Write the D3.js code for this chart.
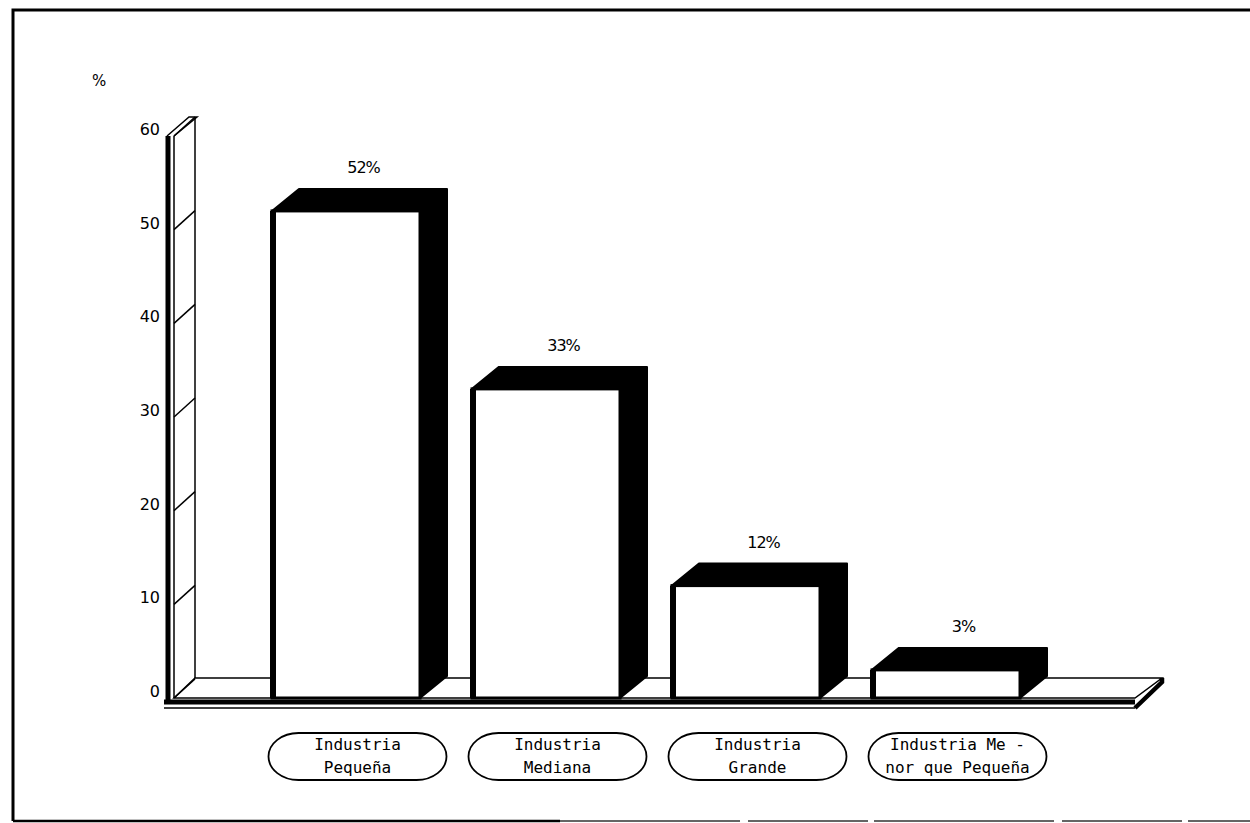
<!DOCTYPE html>
<html>
<head>
<meta charset="utf-8">
<script src="https://cdn.jsdelivr.net/npm/d3@7"></script>
<style>
  body { margin: 0; background: #fff; }
  svg { display: block; }
</style>
</head>
<body>
<div id="chart"></div>
<script>
// données du graphique
const categories = ["Industria Pequeña", "Industria Mediana", "Industria Grande", "Industria Menor que Pequeña"];
const labelLines = [["Industria", "Pequeña"], ["Industria", "Mediana"], ["Industria", "Grande"], ["Industria Me -", "nor que Pequeña"]];
const values = [52, 33, 12, 3];
const valueLabels = ["52%", "33%", "12%", "3%"];
const ticks = [0, 10, 20, 30, 40, 50, 60];

const width = 1250, height = 823;
const dx = 27, dy = -22;   // profondeur 3D

const svg = d3.select("#chart").append("svg")
  .attr("width", width)
  .attr("height", height);

const x = d3.scaleBand()
  .domain(categories)
  .range([246, 1046])
  .paddingInner(0.26)
  .paddingOuter(0.13);

const y = d3.scaleLinear()
  .domain([0, 60])
  .range([698, 136]);

const y0 = y(0);
const line = d3.line();

// cadre
svg.append("path").attr("d", line([[13, 821], [13, 10], [1250, 10]]))
  .attr("fill", "none").attr("stroke", "#000").attr("stroke-width", 3);
svg.append("line").attr("x1", 13).attr("x2", 560).attr("y1", 821).attr("y2", 821)
  .attr("stroke", "#000").attr("stroke-width", 2.5);
svg.append("line").attr("x1", 560).attr("x2", 1250).attr("y1", 821).attr("y2", 821)
  .attr("stroke", "#333").attr("stroke-width", 1.5).attr("stroke-dasharray", "180,8,120,6");

// sol
const wallX = 168, floorRight = 1135;
svg.append("path")
  .attr("d", line([[wallX + 6, y0], [floorRight, y0], [floorRight + dx, y0 + dy + 2], [wallX + dx, y0 + dy + 2]]) + "Z")
  .attr("fill", "#fff").attr("stroke", "#000").attr("stroke-width", 1.5);
svg.append("line").attr("x1", wallX - 4).attr("x2", floorRight).attr("y1", y0 + 4).attr("y2", y0 + 4)
  .attr("stroke", "#000").attr("stroke-width", 5);
svg.append("line").attr("x1", wallX - 4).attr("x2", floorRight).attr("y1", y0 + 10).attr("y2", y0 + 10)
  .attr("stroke", "#000").attr("stroke-width", 1.5);
svg.append("path")
  .attr("d", line([[floorRight, y0 + 10], [floorRight + dx, y0 + dy + 6], [floorRight + dx, y0 + dy + 2]]))
  .attr("fill", "none").attr("stroke", "#000").attr("stroke-width", 4.5);

// mur de l'axe
svg.append("line").attr("x1", wallX).attr("x2", wallX).attr("y1", y(60)).attr("y2", y0 + 6)
  .attr("stroke", "#000").attr("stroke-width", 5);
svg.append("line").attr("x1", wallX + 6).attr("x2", wallX + 6).attr("y1", y(60)).attr("y2", y0)
  .attr("stroke", "#000").attr("stroke-width", 1.5);
svg.append("line").attr("x1", wallX + dx).attr("x2", wallX + dx).attr("y1", y(60) + dy + 3).attr("y2", y0 + dy + 2)
  .attr("stroke", "#000").attr("stroke-width", 1.5);
svg.append("path")
  .attr("d", line([[wallX - 1, y(60)], [wallX + dx - 6, y(60) + dy + 3], [wallX + dx + 2, y(60) + dy + 3], [wallX + 6, y(60)]]))
  .attr("fill", "none").attr("stroke", "#000").attr("stroke-width", 1.5);

svg.selectAll(".tickline")
  .data(ticks)
  .join("line")
  .attr("class", "tickline")
  .attr("x1", wallX + 6).attr("x2", wallX + dx)
  .attr("y1", d => y(d)).attr("y2", d => y(d) + dy + 3)
  .attr("stroke", "#000").attr("stroke-width", 1.5);

svg.selectAll(".ticklabel")
  .data(ticks)
  .join("text")
  .attr("class", "ticklabel")
  .attr("x", 160)
  .attr("y", d => y(d) - 1)
  .attr("text-anchor", "end")
  .style("font-family", "DejaVu Sans, sans-serif")
  .style("font-size", "16px")
  .text(d => d);

svg.append("text").attr("x", 92).attr("y", 86)
  .style("font-family", "DejaVu Sans, sans-serif").style("font-size", "15px")
  .text("%");

// barres
const bars = svg.selectAll(".bar")
  .data(values)
  .join("g")
  .attr("class", "bar");

bars.append("path")
  .attr("d", (d, i) => {
    const x0 = x(categories[i]), x1 = x0 + x.bandwidth(), yt = y(d);
    return line([[x0, yt], [x0 + dx, yt + dy], [x1 + dx, yt + dy], [x1 + dx, y0 + dy], [x1, y0], [x1, yt]]) + "Z";
  })
  .attr("fill", "#000").attr("stroke", "#000").attr("stroke-width", 2).attr("stroke-linejoin", "round");

bars.append("rect")
  .attr("x", (d, i) => x(categories[i]))
  .attr("y", d => y(d))
  .attr("width", x.bandwidth())
  .attr("height", d => y0 - y(d))
  .attr("fill", "#fff").attr("stroke", "#000").attr("stroke-width", 3);

bars.append("line")
  .attr("x1", (d, i) => x(categories[i]) + 1).attr("x2", (d, i) => x(categories[i]) + 1)
  .attr("y1", d => y(d)).attr("y2", y0)
  .attr("stroke", "#000").attr("stroke-width", 6);

bars.append("text")
  .attr("x", (d, i) => x(categories[i]) + (x.bandwidth() + dx) / 2 + 4)
  .attr("y", d => y(d) + dy - 16)
  .attr("text-anchor", "middle")
  .style("font-family", "DejaVu Sans, sans-serif")
  .style("font-size", "16px")
  .style("letter-spacing", "-1px")
  .text((d, i) => valueLabels[i]);

// étiquettes des catégories
const pillW = 178, pillH = 47, pillY = 733;
const pills = svg.selectAll(".pill")
  .data(categories)
  .join("g")
  .attr("class", "pill")
  .attr("transform", d => `translate(${x(d) + (x.bandwidth() + dx) / 2 - pillW / 2 - 2},${pillY})`);

pills.append("rect")
  .attr("width", pillW).attr("height", pillH)
  .attr("rx", 30).attr("ry", 23.5)
  .attr("fill", "none").attr("stroke", "#000").attr("stroke-width", 1.8);

pills.selectAll("text")
  .data((d, i) => labelLines[i])
  .join("text")
  .attr("x", pillW / 2)
  .attr("y", (d, j) => 17 + j * 23)
  .attr("text-anchor", "middle")
  .style("font-family", "DejaVu Sans Mono, monospace")
  .style("font-size", "16px")
  .text(d => d);
</script>
</body>
</html>
